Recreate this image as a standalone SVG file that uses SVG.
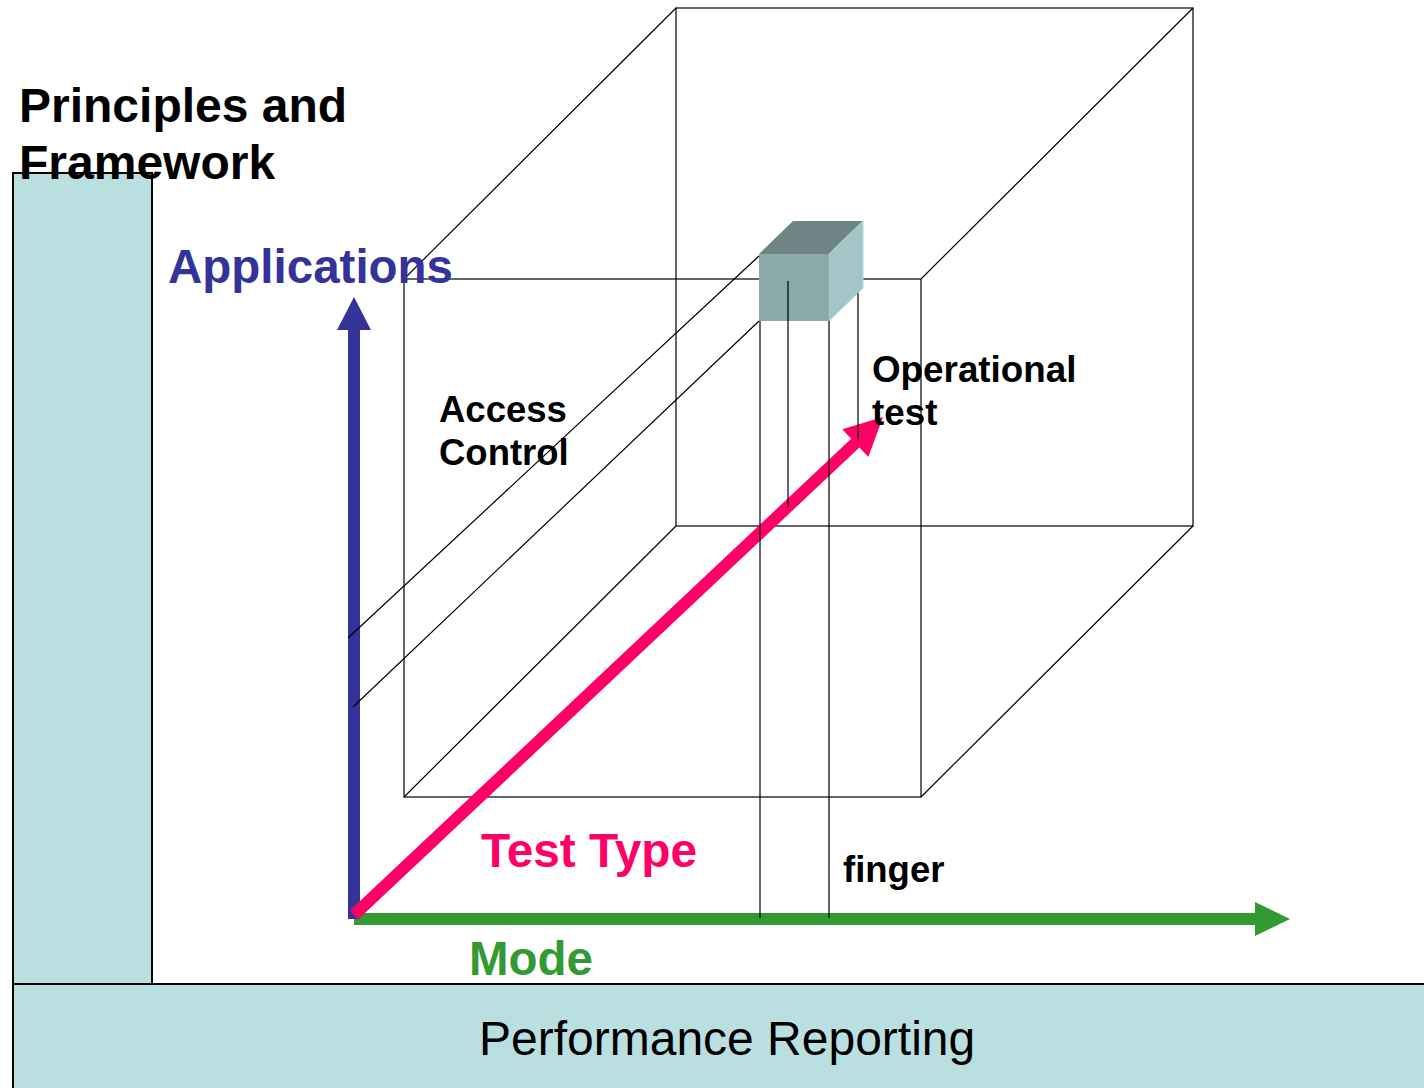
<svg xmlns="http://www.w3.org/2000/svg" width="1424" height="1088" viewBox="0 0 1424 1088">
<style>
.panel{fill:#b9dfe1;stroke:#000;stroke-width:2}
.thin{stroke:#000;stroke-width:1.2;fill:none}
.t{font-family:"Liberation Sans",Arial,sans-serif;font-weight:bold}
</style>
<rect width="1424" height="1088" fill="#fff"/>
<g id="principles">
<rect class="panel" x="13" y="173" width="139" height="811"/>
<text class="t" x="19" y="122" font-size="48">Principles and</text>
<text class="t" x="19" y="179" font-size="48">Framework</text>
</g>
<g id="reporting">
<rect class="panel" x="13" y="984" width="1430" height="120"/>
<text x="479" y="1055" font-family="'Liberation Sans',Arial,sans-serif" font-size="48">Performance Reporting</text>
</g>
<g id="box">
<rect class="thin" x="404" y="279" width="517" height="518"/>
<rect class="thin" x="676" y="8" width="517" height="518"/>
<path class="thin" d="M404 279L676 8M921 279L1193 8M921 797L1193 526M404 797L676 526"/>
</g>
<g id="cell">
<polygon points="759,254 793,221 863,221 829,254" fill="#6f8585"/>
<polygon points="829,254 863,221 863,288 829,321" fill="#a4c5c7" stroke="#b8d8da" stroke-width="1"/>
<rect x="759" y="254" width="70" height="67" fill="#8aa9a9"/>
</g>
<g id="axes">
<polygon id="mode-axis" points="354,913 1255,913 1255,902 1290,919 1255,936 1255,925 354,925" fill="#339933"/>
<polygon id="app-axis" points="348,919 348,330 337,330 354,297 371,330 360,330 360,919" fill="#333399"/>
<polygon id="testtype-axis" points="349.9,910.6 851.2,438.7 842.3,429.3 883,417 868.3,456.9 859.4,447.5 358.1,919.4" fill="#ff0066"/>
</g>
<g id="connectors">
<path class="thin" d="M759 256L348 638M759 321L353 707"/>
<path class="thin" d="M760 321V918M788 281V508M829 321V918M858 293V441"/>
</g>
<g id="labels">
<text class="t" x="168" y="283" font-size="47.5" fill="#333399">Applications</text>
<text class="t" x="439" y="422" font-size="36.5">Access</text>
<text class="t" x="439" y="465" font-size="36.5">Control</text>
<text class="t" x="872" y="382" font-size="36.8">Operational</text>
<text class="t" x="872" y="425" font-size="36.8">test</text>
<text class="t" x="481" y="867" font-size="47.8" fill="#ff0066">Test Type</text>
<text class="t" x="843" y="882" font-size="36.5">finger</text>
<text class="t" x="469" y="975" font-size="47.5" fill="#339933">Mode</text>
</g>
</svg>
